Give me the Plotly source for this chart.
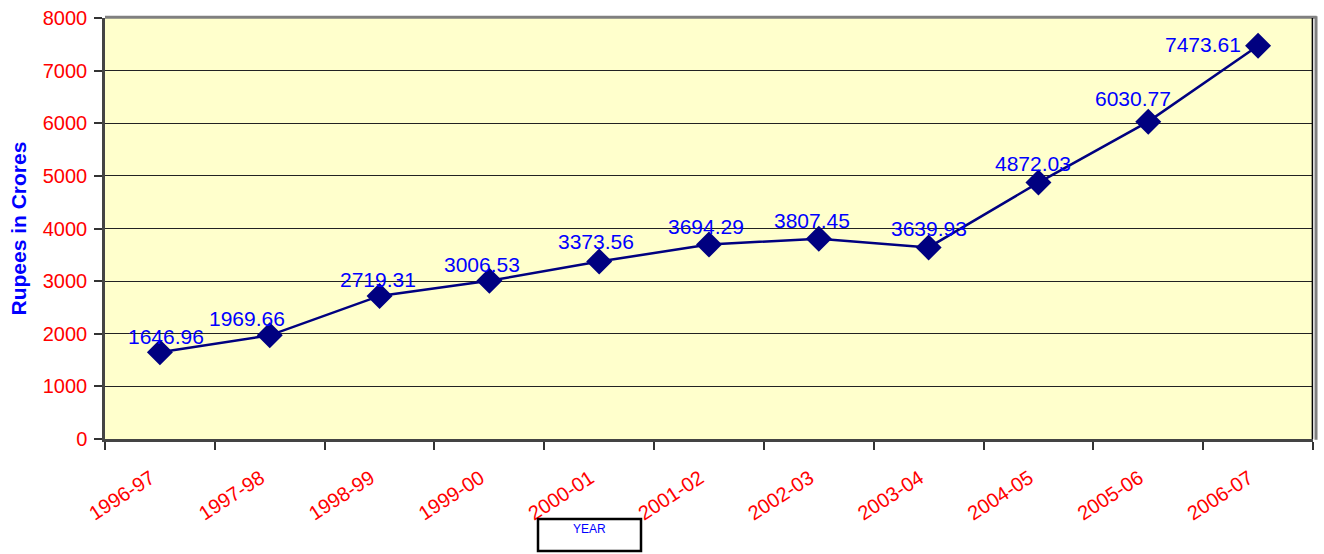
import plotly.graph_objects as go

years = ["1996-97", "1997-98", "1998-99", "1999-00", "2000-01", "2001-02",
         "2002-03", "2003-04", "2004-05", "2005-06", "2006-07"]
values = [1646.96, 1969.66, 2719.31, 3006.53, 3373.56, 3694.29,
          3807.45, 3639.93, 4872.03, 6030.77, 7473.61]
y_ticks = [0, 1000, 2000, 3000, 4000, 5000, 6000, 7000, 8000]

# label nudges (pixels) for readability, like the original
label_dx = [6, -23, -2, -7, -3, -3, -7, 0, -5, -15, -55]
label_dy = [2, 3, 3, 3, 6, 5, 5, 5, 6, 10, -12]

FONT = "Liberation Sans, Arial, sans-serif"

fig = go.Figure()
fig.add_trace(go.Scatter(
    x=years, y=values, mode="lines+markers",
    line=dict(color="#000080", width=2.5),
    marker=dict(symbol="diamond", size=20, color="#000080"),
    hoverinfo="x+y", showlegend=False,
))

annotations = []
for i, (yr, v) in enumerate(zip(years, values)):
    annotations.append(dict(
        x=yr, y=v, xref="x", yref="y", text=f"{v:.2f}", showarrow=False,
        yanchor="bottom", xanchor="center", xshift=label_dx[i], yshift=label_dy[i],
        font=dict(family=FONT, size=21, color="#0000FF"),
    ))
annotations.append(dict(
    x=(18 - 105) / 1208, y=0.5, xref="paper", yref="paper", text="<b>Rupees in Crores</b>",
    textangle=-90, showarrow=False, xanchor="center", yanchor="middle",
    font=dict(family=FONT, size=21, color="#0000FF"),
))
annotations.append(dict(
    x=(589 - 105) / 1208, y=(439 - 529) / 421, xref="paper", yref="paper", text="YEAR",
    showarrow=False, xanchor="center", yanchor="middle",
    font=dict(family=FONT, size=12, color="#0000FF"),
))

shapes = [
    # YEAR box
    dict(type="rect", xref="paper", yref="paper",
         x0=(538 - 105) / 1208, x1=(641 - 105) / 1208,
         y0=(439 - 519) / 421, y1=(439 - 551) / 421,
         line=dict(color="black", width=2.5), fillcolor="white", layer="above"),
    # top grey border
    dict(type="line", xref="paper", yref="paper", x0=0, x1=1.003, y0=1.002, y1=1.002,
         line=dict(color="#808080", width=3)),
    # right black border
    dict(type="line", xref="paper", yref="paper", x0=0.9995, x1=0.9995, y0=0, y1=1,
         line=dict(color="black", width=1.5)),
    # right grey shadow
    dict(type="line", xref="paper", yref="paper", x0=1.0025, x1=1.0025, y0=-0.002, y1=1.004,
         line=dict(color="#808080", width=3)),
]

fig.update_layout(
    width=1324, height=554,
    margin=dict(l=105, r=11, t=18, b=115, autoexpand=False),
    paper_bgcolor="white", plot_bgcolor="#FFFFCC",
    font=dict(family=FONT),
    annotations=annotations, shapes=shapes,
    xaxis=dict(
        type="category", range=[-0.5, 10.5], tickson="boundaries",
        ticks="outside", ticklen=8, tickcolor="#333333", tickwidth=1.5,
        tickangle=-33, tickfont=dict(size=20, color="#FF0000"),
        ticklabelstandoff=17, ticklabelshift=-9, automargin=False,
        showgrid=False, showline=True, linecolor="#444444", linewidth=2.5,
        zeroline=False,
    ),
    yaxis=dict(
        range=[0, 8000], tickvals=y_ticks, ticktext=[str(t) for t in y_ticks],
        ticks="outside", ticklen=8, tickcolor="#333333", tickwidth=1.5,
        tickfont=dict(size=20, color="#FF0000"), ticklabelstandoff=3,
        ticklabeloverflow="allow", automargin=False,
        showgrid=True, gridcolor="#222222", gridwidth=1,
        showline=True, linecolor="#444444", linewidth=2.5, zeroline=False,
    ),
)

fig.write_html("out.html", config={"displayModeBar": False},
               post_script="document.body.style.margin='0';")
